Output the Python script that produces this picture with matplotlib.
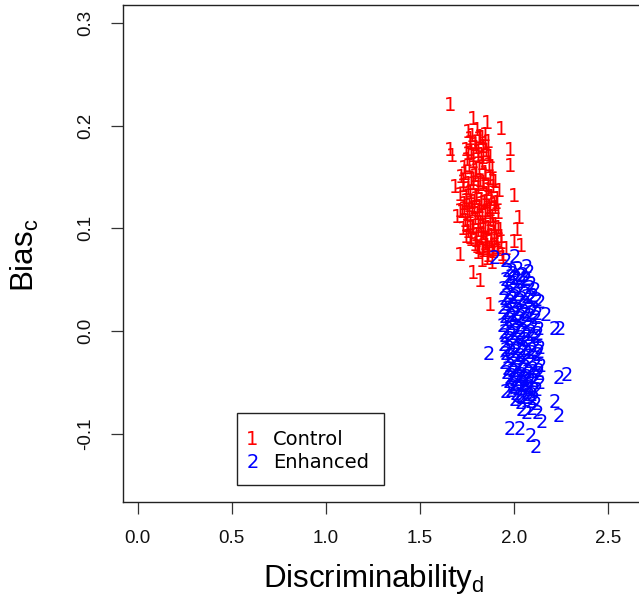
import matplotlib
matplotlib.use("Agg")
import matplotlib.pyplot as plt
from matplotlib.patches import Rectangle

plt.rcParams['mathtext.fontset'] = 'custom'
plt.rcParams['mathtext.rm'] = 'Liberation Sans'
plt.rcParams['mathtext.it'] = 'Liberation Sans'

# posterior samples of d' and c for each group
control_d = [
    # upper part of the cloud
    1.757, 1.781, 1.803, 1.829, 1.846, 1.768, 1.792, 1.815, 1.838, 1.861,
    1.744, 1.773, 1.797, 1.824, 1.851, 1.876, 1.752, 1.786, 1.809, 1.833,
    1.869, 1.737, 1.764, 1.799, 1.818, 1.845, 1.884,
    # middle
    1.718, 1.742, 1.771, 1.795, 1.822, 1.847, 1.873, 1.902,
    1.729, 1.756, 1.783, 1.808, 1.836, 1.862, 1.889, 1.921,
    1.712, 1.748, 1.769, 1.801, 1.827, 1.853, 1.881, 1.909,
    1.735, 1.761, 1.789, 1.816, 1.842, 1.868, 1.897,
    1.724, 1.752, 1.778, 1.804, 1.831, 1.859, 1.886, 1.918,
    1.741, 1.767, 1.794, 1.821, 1.848, 1.874, 1.903,
    1.733, 1.759, 1.786, 1.812, 1.839, 1.866, 1.893, 1.927,
    1.748, 1.775, 1.801, 1.828, 1.855, 1.882, 1.911,
    # lower
    1.792, 1.818, 1.845, 1.871, 1.898, 1.934,
    1.811, 1.838, 1.864, 1.891, 1.919,
    1.829, 1.857, 1.884, 1.945,
    # between the rows above
    1.770, 1.795, 1.822, 1.848,
    1.758, 1.784, 1.811, 1.839, 1.866,
    1.731, 1.757, 1.784, 1.811, 1.837, 1.864, 1.892,
    1.745, 1.771, 1.798, 1.825, 1.852, 1.879, 1.906,
    1.737, 1.764, 1.791, 1.818, 1.845, 1.872, 1.899,
    1.754, 1.781, 1.808, 1.835, 1.862, 1.889, 1.916,
    1.770, 1.797, 1.824, 1.851, 1.878, 1.905, 1.930,
    1.804, 1.831, 1.858, 1.885, 1.912,
    # stragglers
    1.664, 1.785, 1.86, 1.935, 1.98, 1.98, 1.66, 1.67, 1.69, 1.70, 1.714,
    2.00, 2.03, 2.02, 2.00, 2.04, 1.96, 1.94, 1.714, 1.785, 1.82, 1.874,
]
control_c = [
    0.193, 0.189, 0.195, 0.187, 0.190, 0.183, 0.181, 0.186, 0.179, 0.184,
    0.176, 0.173, 0.178, 0.171, 0.175, 0.169, 0.166, 0.164, 0.169, 0.162,
    0.161, 0.158, 0.160, 0.155, 0.157, 0.153, 0.159,
    0.149, 0.152, 0.147, 0.150, 0.146, 0.151, 0.148, 0.145,
    0.141, 0.138, 0.143, 0.139, 0.142, 0.137, 0.140, 0.136,
    0.132, 0.129, 0.134, 0.131, 0.127, 0.133, 0.130, 0.128,
    0.123, 0.121, 0.125, 0.120, 0.124, 0.119, 0.122,
    0.115, 0.112, 0.117, 0.113, 0.110, 0.116, 0.111, 0.114,
    0.107, 0.104, 0.109, 0.105, 0.102, 0.108, 0.103,
    0.099, 0.096, 0.101, 0.097, 0.094, 0.100, 0.095, 0.098,
    0.091, 0.088, 0.093, 0.089, 0.086, 0.092, 0.087,
    0.083, 0.080, 0.084, 0.079, 0.082, 0.085,
    0.075, 0.077, 0.073, 0.076, 0.078,
    0.068, 0.070, 0.066, 0.071,
    0.186, 0.183, 0.188, 0.182,
    0.172, 0.170, 0.174, 0.168, 0.171,
    0.145, 0.143, 0.147, 0.142, 0.144, 0.141, 0.146,
    0.126, 0.124, 0.128, 0.123, 0.125, 0.127, 0.124,
    0.118, 0.115, 0.119, 0.116, 0.114, 0.117, 0.119,
    0.102, 0.100, 0.105, 0.101, 0.099, 0.103, 0.100,
    0.090, 0.087, 0.091, 0.088, 0.086, 0.089, 0.091,
    0.081, 0.079, 0.082, 0.078, 0.080,
    0.220, 0.206, 0.202, 0.196, 0.176, 0.160, 0.176, 0.170, 0.140, 0.111, 0.116,
    0.131, 0.110, 0.098, 0.086, 0.082, 0.079, 0.074, 0.074, 0.056, 0.048, 0.025,
]

enhanced_d = [
    1.968, 1.994, 2.021, 2.048, 2.079,
    1.957, 1.983, 2.009, 2.036, 2.064, 2.093,
    1.948, 1.975, 2.002, 2.029, 2.057, 2.085, 2.112,
    1.953, 1.979, 2.006, 2.033, 2.061, 2.089, 2.121,
    1.944, 1.971, 1.997, 2.024, 2.052, 2.079, 2.108,
    1.951, 1.977, 2.004, 2.031, 2.058, 2.086, 2.117,
    1.942, 1.969, 1.996, 2.022, 2.049, 2.077, 2.104, 2.133,
    1.955, 1.981, 2.008, 2.035, 2.062, 2.091, 2.122,
    1.946, 1.973, 2.000, 2.027, 2.054, 2.082, 2.111, 2.139,
    1.958, 1.985, 2.012, 2.039, 2.066, 2.094, 2.127,
    1.951, 1.978, 2.005, 2.032, 2.059, 2.087, 2.116, 2.145,
    1.963, 1.990, 2.017, 2.044, 2.071, 2.099, 2.131,
    1.972, 1.999, 2.026, 2.053, 2.080, 2.108, 2.138,
    1.986, 2.013, 2.040, 2.067, 2.095, 2.124,
    2.008, 2.035, 2.062, 2.089, 2.117,
    2.041, 2.069, 2.098,
    # between the rows above
    1.982, 2.008, 2.035, 2.062,
    1.962, 1.989, 2.016, 2.043, 2.071, 2.099,
    1.958, 1.985, 2.012, 2.039, 2.066, 2.094, 2.125,
    1.955, 1.982, 2.009, 2.036, 2.063, 2.091, 2.128,
    1.960, 1.987, 2.014, 2.041, 2.068, 2.096, 2.131,
    1.968, 1.995, 2.022, 2.049, 2.076, 2.104, 2.135,
    1.980, 2.007, 2.034, 2.061, 2.088, 2.116,
    1.997, 2.024, 2.051, 2.078, 2.106,
    2.022, 2.050, 2.079, 2.108,
    # stragglers
    1.90, 2.007, 2.07, 2.14, 2.17, 2.22, 2.245, 1.87, 2.28, 2.24, 1.96,
    2.04, 2.22, 2.24, 2.13, 2.15, 1.98, 2.03, 2.09, 2.12, 1.96, 1.99,
]
enhanced_c = [
    0.058, 0.055, 0.060, 0.054, 0.057,
    0.049, 0.046, 0.051, 0.047, 0.050, 0.045,
    0.040, 0.037, 0.042, 0.038, 0.036, 0.041, 0.039,
    0.031, 0.028, 0.033, 0.029, 0.027, 0.032, 0.030,
    0.022, 0.019, 0.024, 0.020, 0.018, 0.023, 0.021,
    0.013, 0.010, 0.015, 0.011, 0.009, 0.014, 0.012,
    0.004, 0.001, 0.006, 0.002, 0.000, 0.005, 0.003, 0.001,
    -0.005, -0.008, -0.003, -0.007, -0.009, -0.004, -0.006,
    -0.014, -0.017, -0.012, -0.016, -0.018, -0.013, -0.015, -0.017,
    -0.023, -0.026, -0.021, -0.025, -0.027, -0.022, -0.024,
    -0.032, -0.035, -0.030, -0.034, -0.036, -0.031, -0.033, -0.035,
    -0.041, -0.044, -0.039, -0.043, -0.045, -0.040, -0.042,
    -0.050, -0.053, -0.048, -0.052, -0.054, -0.049, -0.051,
    -0.059, -0.062, -0.057, -0.061, -0.063, -0.058,
    -0.068, -0.071, -0.066, -0.070, -0.072,
    -0.077, -0.080, -0.076,
    0.052, 0.050, 0.053, 0.049,
    0.034, 0.032, 0.035, 0.031, 0.033, 0.034,
    0.017, 0.014, 0.016, 0.013, 0.015, 0.017, 0.016,
    -0.001, -0.003, 0.000, -0.002, -0.004, -0.001, -0.003,
    -0.019, -0.021, -0.018, -0.020, -0.022, -0.019, -0.021,
    -0.037, -0.039, -0.036, -0.038, -0.040, -0.037, -0.039,
    -0.046, -0.048, -0.045, -0.047, -0.049, -0.046,
    -0.055, -0.057, -0.054, -0.056, -0.058,
    -0.064, -0.066, -0.063, -0.067,
    0.071, 0.072, 0.062, 0.028, 0.015, 0.001, 0.001, -0.023, -0.043, -0.046, -0.060,
    -0.065, -0.070, -0.083, -0.080, -0.089, -0.096, -0.096, -0.103, -0.113, 0.068, 0.058,
]

groups = ["Control", "Enhanced"]
symbols = ["1", "2"]
colors = ["#ff0000", "#0000ff"]

fig = plt.figure(figsize=(6.39, 5.98), dpi=100)
ax = fig.add_axes([0.1925, 0.1605, 0.8404, 0.8311])
ax.set_xlim(-0.078, 2.778)
ax.set_ylim(-0.1665, 0.3174)

for d, c, s, col in [(control_d, control_c, symbols[0], colors[0]),
                     (enhanced_d, enhanced_c, symbols[1], colors[1])]:
    for x, y in zip(d, c):
        ax.text(x, y, s, color=col, fontsize=14, family='DejaVu Sans',
                ha='center', va='center')

ax.set_xticks([0.0, 0.5, 1.0, 1.5, 2.0, 2.5])
ax.set_xticklabels(["0.0", "0.5", "1.0", "1.5", "2.0", "2.5"])
ax.set_yticks([-0.1, 0.0, 0.1, 0.2, 0.3])
ax.set_yticklabels(["-0.1", "0.0", "0.1", "0.2", "0.3"], rotation=90, va='center')
ax.tick_params(length=8.5, width=0.9, color='#333333', labelcolor='#111111',
               labelsize=13.5, pad=12)
for lab in ax.get_xticklabels() + ax.get_yticklabels():
    lab.set_family('Liberation Sans')
for sp in ax.spines.values():
    sp.set_color('#222222')
    sp.set_linewidth(1.0)

# legend box
ax.add_patch(Rectangle((0.528, -0.150), 0.782, 0.0702, facecolor='white',
                       edgecolor='#222222', linewidth=1.0, zorder=3))
for i, (g, s, col) in enumerate(zip(groups, symbols, colors)):
    yy = -0.106 - 0.0225 * i
    ax.text(0.611, yy, s, color=col, fontsize=14, family='DejaVu Sans',
            ha='center', va='center', zorder=4)
    ax.text(0.720, yy, g, color='black', fontsize=14, family='DejaVu Sans',
            ha='left', va='center', zorder=4)

fig.text(0.585, 0.0184, r"Discriminability$_{\mathrm{d}}$", fontsize=22.5,
         family='Liberation Sans', ha='center', va='baseline')
fig.text(0.039, 0.5736, r"Bias$_{\mathrm{c}}$", fontsize=22.5,
         family='Liberation Sans', ha='center', va='center', rotation=90)

fig.savefig("out.png", dpi=100)
